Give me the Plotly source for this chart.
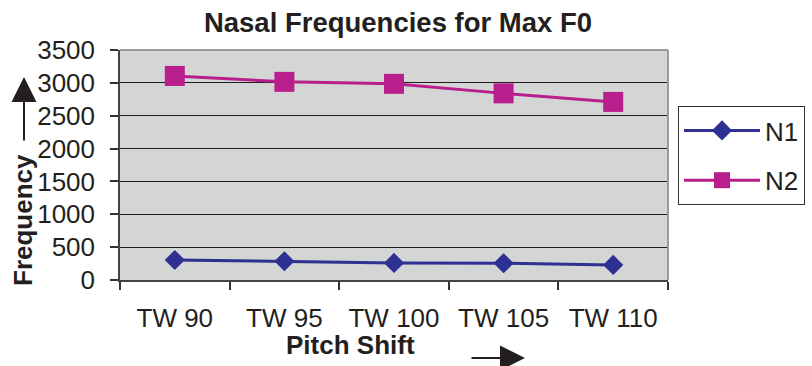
import plotly.graph_objects as go

categories = ["TW 90", "TW 95", "TW 100", "TW 105", "TW 110"]
n1_values = [305, 285, 260, 255, 230]
n2_values = [3105, 3015, 2985, 2840, 2710]
y_ticks = [0, 500, 1000, 1500, 2000, 2500, 3000, 3500]

FONT = "Liberation Sans, Arial, sans-serif"
N1_COLOR = "#2E3192"
N2_COLOR = "#B91F8C"

fig = go.Figure()
fig.add_trace(go.Scatter(
    x=categories, y=n1_values, name="N1", mode="lines+markers",
    line=dict(color=N1_COLOR, width=3),
    marker=dict(symbol="diamond", size=15.5, color=N1_COLOR),
    legendgroup="n1",
))
fig.add_trace(go.Scatter(
    x=categories, y=n2_values, name="N2", mode="lines+markers",
    line=dict(color=N2_COLOR, width=3),
    marker=dict(symbol="square", size=20, color=N2_COLOR),
    legendgroup="n2",
))

PL, PR, PT, PB = 120, 668, 50, 280
W, H = 812, 366

def px(x):
    return (x - PL) / (PR - PL)

def py(y):
    return (PB - y) / (PB - PT)

fig.update_layout(
    width=W, height=H,
    margin=dict(l=PL, r=W - PR, t=PT, b=H - PB, pad=0, autoexpand=False),
    paper_bgcolor="white",
    plot_bgcolor="#D4D5D5",
    font=dict(family=FONT, size=26, color="#231F20"),
    showlegend=True,
    legend=dict(
        x=px(678), y=py(106), xanchor="left", yanchor="top",
        bgcolor="white", bordercolor="#333333", borderwidth=1,
        font=dict(family=FONT, size=26, color="#231F20"),
        tracegroupgap=13, itemwidth=76,
    ),
    title=dict(
        text="<b>Nasal Frequencies for Max F0</b>",
        x=px(398), xref="paper", xanchor="center",
        y=1 - 22 / H, yref="container", yanchor="middle",
        font=dict(family=FONT, size=27.5, color="#231F20"),
    ),
    xaxis=dict(
        type="category", range=[-0.5, 4.5],
        tickson="boundaries", ticks="outside", ticklen=8, tickwidth=1.5,
        tickcolor="#333333", showline=True, linecolor="#444444", linewidth=1.5,
        showgrid=False, zeroline=False, ticklabelstandoff=14,
        tickfont=dict(family=FONT, size=26, color="#231F20"),
    ),
    yaxis=dict(
        range=[0, 3500], tickvals=y_ticks, ticks="outside", ticklen=8,
        tickwidth=1.5, tickcolor="#333333", showline=True,
        linecolor="#444444", linewidth=1.5, showgrid=True,
        gridcolor="#1E1E1E", gridwidth=1.2, zeroline=False,
        ticklabelstandoff=10,
        tickfont=dict(family=FONT, size=26, color="#231F20"),
    ),
)

# gray frame on top and right of plot area
fig.add_shape(type="line", xref="paper", yref="paper", x0=0, x1=1, y0=1, y1=1,
              line=dict(color="#9A9A9A", width=2))
fig.add_shape(type="line", xref="paper", yref="paper", x0=1, x1=1, y0=0, y1=1,
              line=dict(color="#9A9A9A", width=2))

# axis titles
fig.add_annotation(text="<b>Pitch Shift</b>", xref="paper", yref="paper",
                   x=px(350), y=py(345), showarrow=False,
                   xanchor="center", yanchor="middle",
                   font=dict(family=FONT, size=26, color="#231F20"))
fig.add_annotation(text="<b>Frequency</b>", xref="paper", yref="paper",
                   x=px(23), y=py(220), showarrow=False, textangle=-90,
                   xanchor="center", yanchor="middle",
                   font=dict(family=FONT, size=26, color="#231F20"))

# arrows
fig.add_annotation(text="", xref="paper", yref="paper", x=px(24), y=py(77),
                   ax=0, ay=65, showarrow=True, arrowhead=2, arrowsize=2.5,
                   arrowwidth=2, arrowcolor="#231F20")
fig.add_annotation(text="", xref="paper", yref="paper", x=px(525), y=py(358),
                   ax=-55, ay=0, showarrow=True, arrowhead=2, arrowsize=2.5,
                   arrowwidth=2, arrowcolor="#231F20")

fig.write_html("out.html")
